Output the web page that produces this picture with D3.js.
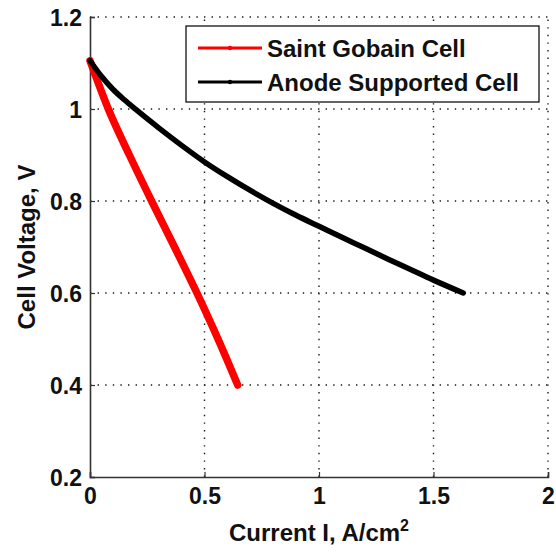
<!DOCTYPE html>
<html>
<head>
<meta charset="utf-8">
<script src="https://cdn.jsdelivr.net/npm/d3@7"></script>
<style>
  html, body { margin: 0; padding: 0; background: #fff; }
  svg { display: block; font-family: "Liberation Sans", Arial, sans-serif; }
</style>
</head>
<body>
<svg id="chart" width="556" height="555"></svg>
<script>
// Polarization curves: cell voltage vs current density
const saintGobainCurrent = [0, 0.08, 0.172, 0.269, 0.369, 0.467, 0.559, 0.645];
const saintGobainVoltage = [1.105, 1.0, 0.9, 0.8, 0.7, 0.6, 0.5, 0.4];

const anodeCurrent = [0, 0.05, 0.1, 0.15, 0.2, 0.3, 0.4, 0.5, 0.6, 0.7, 0.8, 0.9, 1.0, 1.1, 1.2, 1.3, 1.4, 1.5, 1.63];
const anodeVoltage = [1.105, 1.071, 1.043, 1.02, 0.999, 0.959, 0.921, 0.885, 0.853, 0.823, 0.795, 0.769, 0.745, 0.721, 0.698, 0.674, 0.651, 0.628, 0.6];

const xTicks = [0, 0.5, 1, 1.5, 2];
const yTicks = [0.2, 0.4, 0.6, 0.8, 1, 1.2];

const seriesNames = ["Saint Gobain Cell", "Anode Supported Cell"];
const seriesColors = ["#ff0000", "#000000"];

const svg = d3.select("#chart");
const margin = { left: 90, right: 8, top: 17, bottom: 78 };
const W = 556, H = 555;
const FONT = "'Liberation Sans', Arial, sans-serif";

const x = d3.scaleLinear().domain([0, 2]).range([margin.left, W - margin.right]);
const y = d3.scaleLinear().domain([0.2, 1.2]).range([H - margin.bottom, margin.top]);

// Dotted grid
const grid = svg.append("g").attr("stroke", "#1a1a1a").attr("stroke-width", 1.4)
  .attr("stroke-dasharray", "1.4,6.2");
grid.selectAll("line.v").data(xTicks.filter(d => d > 0)).join("line")
  .attr("x1", d => x(d)).attr("x2", d => x(d))
  .attr("y1", y(0.2)).attr("y2", y(1.2));
grid.selectAll("line.h").data(yTicks.filter(d => d > 0.2)).join("line")
  .attr("x1", x(0)).attr("x2", x(2))
  .attr("y1", d => y(d)).attr("y2", d => y(d));

// Axes
const xAxis = d3.axisBottom(x).tickValues(xTicks).tickSize(-5).tickPadding(11)
  .tickFormat(d => d3.format("")(d));
const yAxis = d3.axisLeft(y).tickValues(yTicks).tickSize(-5).tickPadding(8)
  .tickFormat(d => d3.format("")(d));

const gx = svg.append("g").attr("transform", `translate(0,${y(0.2)})`).call(xAxis);
const gy = svg.append("g").attr("transform", `translate(${x(0)},0)`).call(yAxis);
[gx, gy].forEach(g => {
  g.select(".domain").attr("stroke", "#333").attr("stroke-width", 1.6);
  g.selectAll(".tick line").attr("stroke", "#333").attr("stroke-width", 1.2);
  g.selectAll(".tick text").attr("fill", "#111").style("font-size", "23px")
    .style("font-weight", "bold").style("font-family", FONT);
});
gx.selectAll(".tick text").attr("dy", "0.71em");
gy.selectAll(".tick text").attr("dy", "0.35em");

// Curves
const line = d3.line().x(d => x(d[0])).y(d => y(d[1])).curve(d3.curveMonotoneX);
const sgData = d3.zip(saintGobainCurrent, saintGobainVoltage);
const asData = d3.zip(anodeCurrent, anodeVoltage);

svg.append("path").datum(sgData).attr("d", line)
  .attr("fill", "none").attr("stroke", seriesColors[0]).attr("stroke-width", 7.5)
  .attr("stroke-linejoin", "round").attr("stroke-linecap", "round");
svg.append("path").datum(asData).attr("d", line)
  .attr("fill", "none").attr("stroke", seriesColors[1]).attr("stroke-width", 5.5)
  .attr("stroke-linejoin", "round").attr("stroke-linecap", "round");

// Axis titles
svg.append("text").attr("x", x(1)).attr("y", 541).attr("text-anchor", "middle")
  .style("font-size", "24px").style("font-weight", "bold").attr("fill", "#111")
  .html('Current I, A/cm<tspan dy="-10" style="font-size:16px">2</tspan>');
svg.append("text").attr("transform", `translate(35,${y(0.7)}) rotate(-90)`)
  .attr("text-anchor", "middle").style("font-size", "24px").style("font-weight", "bold")
  .attr("fill", "#111").text("Cell Voltage, V");

// Legend
const lg = svg.append("g");
lg.append("rect").attr("x", 186).attr("y", 26).attr("width", 353).attr("height", 76)
  .attr("fill", "#fff").attr("stroke", "#111").attr("stroke-width", 1.3);
seriesNames.forEach((name, i) => {
  const cy = 48 + i * 34;
  lg.append("line").attr("x1", 198).attr("x2", 262).attr("y1", cy).attr("y2", cy)
    .attr("stroke", seriesColors[i]).attr("stroke-width", 3);
  lg.append("circle").attr("cx", 230).attr("cy", cy).attr("r", 2.2).attr("fill", seriesColors[i]);
  lg.append("text").attr("x", 267).attr("y", cy).attr("dy", "0.36em")
    .style("font-size", "24px").style("font-weight", "bold").attr("fill", "#111").text(name);
});
</script>
</body>
</html>
